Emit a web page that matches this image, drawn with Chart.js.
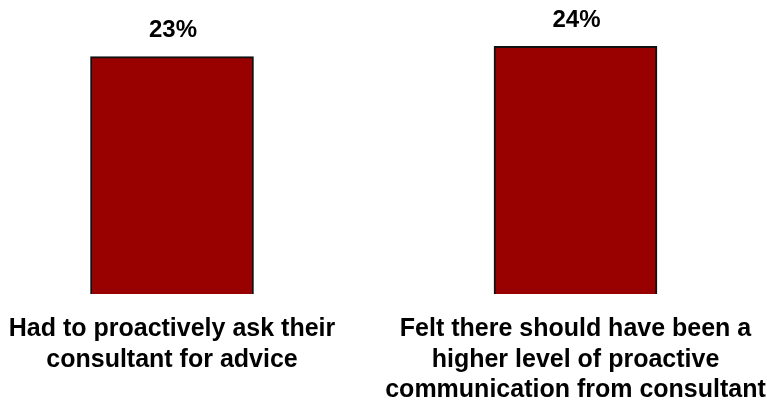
<!DOCTYPE html>
<html>
<head>
<meta charset="utf-8">
<script src="https://cdn.jsdelivr.net/npm/chart.js@4/dist/chart.umd.min.js"></script>
<style>
  body { margin: 0; background: #fff; }
  #wrap { width: 767px; height: 402px; position: relative; }
</style>
</head>
<body>
<div id="wrap"><canvas id="barChart"></canvas></div>
<script>
var categories = [
    ['Had to proactively ask their', 'consultant for advice'],
    ['Felt there should have been a', 'higher level of proactive', 'communication from consultant']
];
var values = [23, 24];
var yMin = 0;
var yMax = 28;

// value labels above each bar
var valueLabels = {
    id: 'valueLabels',
    afterDatasetsDraw: function (chart) {
        var ctx = chart.ctx;
        var meta = chart.getDatasetMeta(0);
        ctx.save();
        ctx.font = 'bold 24px "Liberation Sans", Arial, sans-serif';
        ctx.fillStyle = '#000';
        ctx.textAlign = 'center';
        ctx.textBaseline = 'middle';
        meta.data.forEach(function (bar, i) {
            ctx.fillText(values[i] + '%', bar.x + 1, bar.y - 26);
        });
        ctx.restore();
    }
};

var ctx = document.getElementById('barChart').getContext('2d');
new Chart(ctx, {
    type: 'bar',
    data: {
        labels: categories,
        datasets: [{
            data: values,
            backgroundColor: '#990000',
            borderColor: '#111',
            borderWidth: 2,
            barThickness: 163,
            clip: false
        }]
    },
    options: {
        responsive: true,
        maintainAspectRatio: false,
        animation: false,
        layout: {
            padding: { left: 172, right: 191.5, top: 5, bottom: 0 }
        },
        plugins: {
            legend: { display: false },
            tooltip: { enabled: false }
        },
        scales: {
            x: {
                offset: false,
                grid: { display: false, drawTicks: false, offset: false },
                border: { display: false },
                ticks: {
                    autoSkip: false,
                    maxRotation: 0,
                    minRotation: 0,
                    padding: 20,
                    color: '#000',
                    font: { family: '"Liberation Sans", Arial, sans-serif', size: 25, weight: 'bold', lineHeight: 1.22 }
                },
                afterFit: function (scale) {
                    // fixed axis height, and keep the labels from pushing the plot inward
                    scale.height = 108;
                    scale.paddingLeft = 0;
                    scale.paddingRight = 0;
                }
            },
            y: {
                display: false,
                min: yMin,
                max: yMax
            }
        }
    },
    plugins: [valueLabels]
});
</script>
</body>
</html>
